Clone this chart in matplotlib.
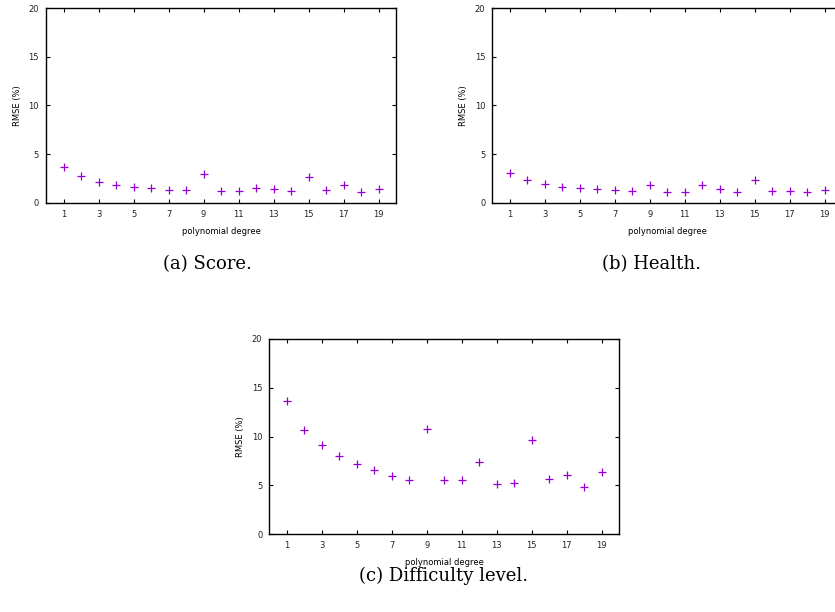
import matplotlib
matplotlib.use("Agg")
import matplotlib.pyplot as plt
import matplotlib.ticker as mticker

# polynomial degree on the x axis
degrees = list(range(1, 20))

# RMSE (%) per degree for each predicted quantity
rmse_score = [3.74, 2.72, 2.14, 1.87, 1.60, 1.50, 1.36, 1.29, 2.99, 1.26,
              1.22, 1.53, 1.46, 1.19, 2.62, 1.29, 1.84, 1.12, 1.43]
rmse_health = [3.06, 2.31, 1.90, 1.67, 1.50, 1.39, 1.29, 1.22, 1.87, 1.12,
               1.16, 1.87, 1.46, 1.12, 2.41, 1.22, 1.19, 1.16, 1.33]
rmse_difficulty = [13.62, 10.68, 9.08, 8.05, 7.20, 6.55, 6.00, 5.56, 10.72, 5.56,
                   5.56, 7.34, 5.12, 5.19, 9.62, 5.63, 6.07, 4.78, 6.38]

captions = ["(a) Score.", "(b) Health.", "(c) Difficulty level."]

MARKER_COLOR = "#9400d3"
TICK_FONT = 6

W, H = 835, 612
fig = plt.figure(figsize=(W / 100, H / 100), dpi=100)


def panel(rect, values):
    ax = fig.add_axes(rect)
    ax.plot(degrees, values, linestyle="none", marker="+", markersize=5.5,
            markeredgewidth=0.9, color=MARKER_COLOR)
    ax.set_xlim(0, 20)
    ax.set_ylim(0, 20)
    ax.xaxis.set_major_locator(mticker.FixedLocator(range(1, 20, 2)))
    ax.yaxis.set_major_locator(mticker.MultipleLocator(5))
    ax.tick_params(direction="in", length=3, width=0.8, labelsize=TICK_FONT,
                   top=True, right=True, colors="black", labelcolor="#222222",
                   pad=5)
    for s in ax.spines.values():
        s.set_linewidth(1.0)
    ax.set_xlabel("polynomial degree", fontsize=TICK_FONT, labelpad=6)
    ax.set_ylabel("RMSE (%)", fontsize=TICK_FONT, labelpad=5)
    return ax


aw, ah = 350 / W, 195 / H
panel([46 / W, 1 - 203 / H, aw, ah], rmse_score)
panel([492.3 / W, 1 - 203 / H, aw, ah], rmse_health)
panel([269.3 / W, 1 - 534 / H, aw, ah], rmse_difficulty)

cap_kw = dict(fontsize=13, family="DejaVu Serif", ha="center", va="center")
fig.text(207 / W, 1 - 264 / H, captions[0], **cap_kw)
fig.text(652 / W, 1 - 264 / H, captions[1], **cap_kw)
fig.text(444 / W, 1 - 576 / H, captions[2], **cap_kw)

fig.savefig("out.png", dpi=100)
